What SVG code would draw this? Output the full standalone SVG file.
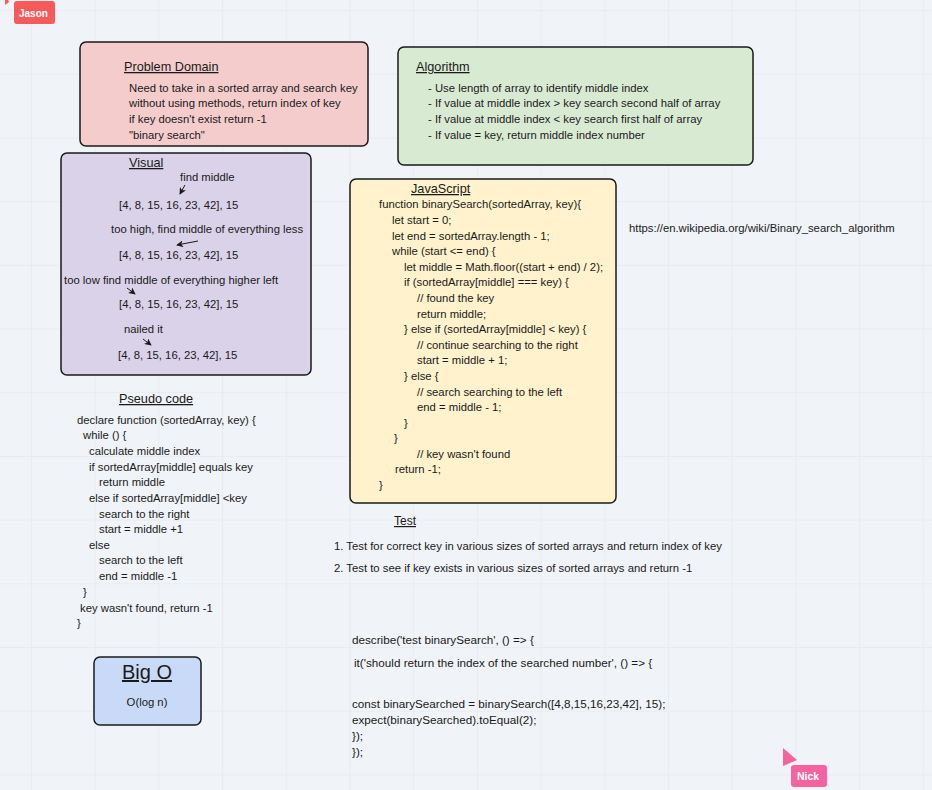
<svg xmlns="http://www.w3.org/2000/svg" width="932" height="790" viewBox="0 0 932 790">
<style>
  text { font-family: "Liberation Sans", Arial, sans-serif; fill: #1a1a1a; }
  .t { font-size: 11.3px; }
  .c { font-size: 11.7px; }
  .h { font-size: 12.7px; text-decoration: underline; }
  .box { stroke: #1a1a1a; stroke-width: 1.5; }
  .tag { font-size: 10px; font-weight: bold; fill: #ffffff; }
  .arr { stroke: #1a1a1a; stroke-width: 1; fill: none; marker-end: url(#ah); }
</style>
<defs>
  <pattern id="grid" x="31" y="10" width="63.7" height="63.7" patternUnits="userSpaceOnUse">
    <path d="M0,0 H63.7 M0,0 V63.7" stroke="#e2e6eb" stroke-width="1" fill="none"/>
  </pattern>
  <marker id="ah" viewBox="0 0 8 8" refX="7" refY="4" markerWidth="7" markerHeight="7" markerUnits="userSpaceOnUse" orient="auto">
    <path d="M0,0 L8,4 L0,8 L2,4 z" fill="#1a1a1a"/>
  </marker>
</defs>
<rect x="0" y="0" width="932" height="790" fill="#f0f3f7"/>
<rect x="0" y="0" width="932" height="790" fill="url(#grid)"/>

<g id="cursor-jason">
  <polygon points="5,-8 5,5 9,2" fill="#f65a5a"/>
  <rect x="14" y="1" width="41" height="23" rx="3" fill="#f65a5a"/>
  <text class="tag" x="19" y="17">Jason</text>
</g>

<g id="problem-domain">
  <rect class="box" x="80" y="42" width="288" height="104" rx="6" fill="#f4cccc"/>
  <text class="h" x="124" y="71">Problem Domain</text>
  <text class="t" x="129" y="92">Need to take in a sorted array and search key</text>
  <text class="t" x="129" y="107">without using methods, return index of key</text>
  <text class="t" x="129" y="123">if key doesn't exist return -1</text>
  <text class="t" x="129" y="139">"binary search"</text>
</g>

<g id="algorithm">
  <rect class="box" x="398" y="47" width="355" height="118" rx="6" fill="#d9ead3"/>
  <text class="h" x="416" y="71">Algorithm</text>
  <text class="t" x="428" y="92">- Use length of array to identify middle index</text>
  <text class="t" x="428" y="107">- If value at middle index &gt; key search second half of array</text>
  <text class="t" x="428" y="123">- If value at middle index &lt; key search first half of array</text>
  <text class="t" x="428" y="139">- If value = key, return middle index number</text>
</g>

<g id="visual">
  <rect class="box" x="61" y="153" width="250" height="222" rx="6" fill="#d9d2e9"/>
  <text class="h" x="129" y="167">Visual</text>
  <text class="t" x="180" y="181">find middle</text>
  <text class="t" x="119" y="209">[4, 8, 15, 16, 23, 42], 15</text>
  <text class="t" x="111" y="233">too high, find middle of everything less</text>
  <text class="t" x="119" y="259">[4, 8, 15, 16, 23, 42], 15</text>
  <text class="t" x="64" y="284">too low find middle of everything higher left</text>
  <text class="t" x="119" y="308">[4, 8, 15, 16, 23, 42], 15</text>
  <text class="t" x="124" y="333">nailed it</text>
  <text class="t" x="118" y="359">[4, 8, 15, 16, 23, 42], 15</text>
</g>

<g id="javascript">
  <rect class="box" x="350" y="179" width="266" height="324" rx="6" fill="#fff2cc"/>
  <text class="h" x="411" y="193">JavaScript</text>
  <text class="t" x="379" y="208">function binarySearch(sortedArray, key){</text>
  <text class="t" x="392" y="224">let start = 0;</text>
  <text class="t" x="392" y="240">let end = sortedArray.length - 1;</text>
  <text class="t" x="392" y="255">while (start &lt;= end) {</text>
  <text class="t" x="404" y="271">let middle = Math.floor((start + end) / 2);</text>
  <text class="t" x="404" y="286">if (sortedArray[middle] === key) {</text>
  <text class="t" x="417" y="302">// found the key</text>
  <text class="t" x="417" y="318">return middle;</text>
  <text class="t" x="404" y="333">} else if (sortedArray[middle] &lt; key) {</text>
  <text class="t" x="417" y="349">// continue searching to the right</text>
  <text class="t" x="417" y="364">start = middle + 1;</text>
  <text class="t" x="404" y="380">} else {</text>
  <text class="t" x="417" y="396">// search searching to the left</text>
  <text class="t" x="417" y="411">end = middle - 1;</text>
  <text class="t" x="404" y="427">}</text>
  <text class="t" x="394" y="442">}</text>
  <text class="t" x="417" y="458">// key wasn't found</text>
  <text class="t" x="395" y="473">return -1;</text>
  <text class="t" x="379" y="489">}</text>
</g>

<g id="wiki-link">
  <text class="t" x="629" y="232">https://en.wikipedia.org/wiki/Binary_search_algorithm</text>
</g>

<g id="pseudo-code">
  <text class="h" x="119" y="403">Pseudo code</text>
  <text class="t" x="77" y="424">declare function (sortedArray, key) {</text>
  <text class="t" x="83" y="439">while () {</text>
  <text class="t" x="89" y="455">calculate middle index</text>
  <text class="t" x="89" y="471">if sortedArray[middle] equals key</text>
  <text class="t" x="99" y="486">return middle</text>
  <text class="t" x="89" y="502">else if sortedArray[middle] &lt;key</text>
  <text class="t" x="99" y="518">search to the right</text>
  <text class="t" x="99" y="533">start = middle +1</text>
  <text class="t" x="89" y="549">else</text>
  <text class="t" x="99" y="564">search to the left</text>
  <text class="t" x="99" y="580">end = middle -1</text>
  <text class="t" x="83" y="596">}</text>
  <text class="t" x="80" y="612">key wasn't found, return -1</text>
  <text class="t" x="77" y="627">}</text>
</g>

<g id="test">
  <text class="h" x="394" y="525" style="font-size:12px">Test</text>
  <text class="t" x="334" y="550">1. Test for correct key in various sizes of sorted arrays and return index of key</text>
  <text class="t" x="334" y="572">2. Test to see if key exists in various sizes of sorted arrays and return -1</text>
</g>

<g id="test-code">
  <text class="c" x="352" y="644">describe('test binarySearch', () =&gt; {</text>
  <text class="c" x="354" y="667">it('should return the index of the searched number', () =&gt; {</text>
  <text class="c" x="352" y="708">const binarySearched = binarySearch([4,8,15,16,23,42], 15);</text>
  <text class="c" x="352" y="724">expect(binarySearched).toEqual(2);</text>
  <text class="c" x="352" y="740">});</text>
  <text class="c" x="352" y="756">});</text>
</g>

<g id="big-o">
  <rect class="box" x="94" y="657" width="107" height="68" rx="6" fill="#c9daf8"/>
  <text x="147" y="679" text-anchor="middle" style="font-size:20px;text-decoration:underline">Big O</text>
  <text class="t" x="147" y="706" text-anchor="middle">O(log n)</text>
</g>

<g id="cursor-nick">
  <polygon points="783,748 783,766 797,760" fill="#f564a0"/>
  <rect x="791" y="765" width="36" height="22" rx="3" fill="#f564a0"/>
  <text class="tag" x="797" y="780" style="font-size:10.5px">Nick</text>
</g>

<g id="connectors">
  <line class="arr" x1="185" y1="185" x2="180" y2="194"/>
  <line class="arr" x1="198" y1="241" x2="177" y2="245"/>
  <line class="arr" x1="127" y1="288" x2="135" y2="294"/>
  <line class="arr" x1="143" y1="339" x2="151" y2="345"/>
</g>
</svg>
